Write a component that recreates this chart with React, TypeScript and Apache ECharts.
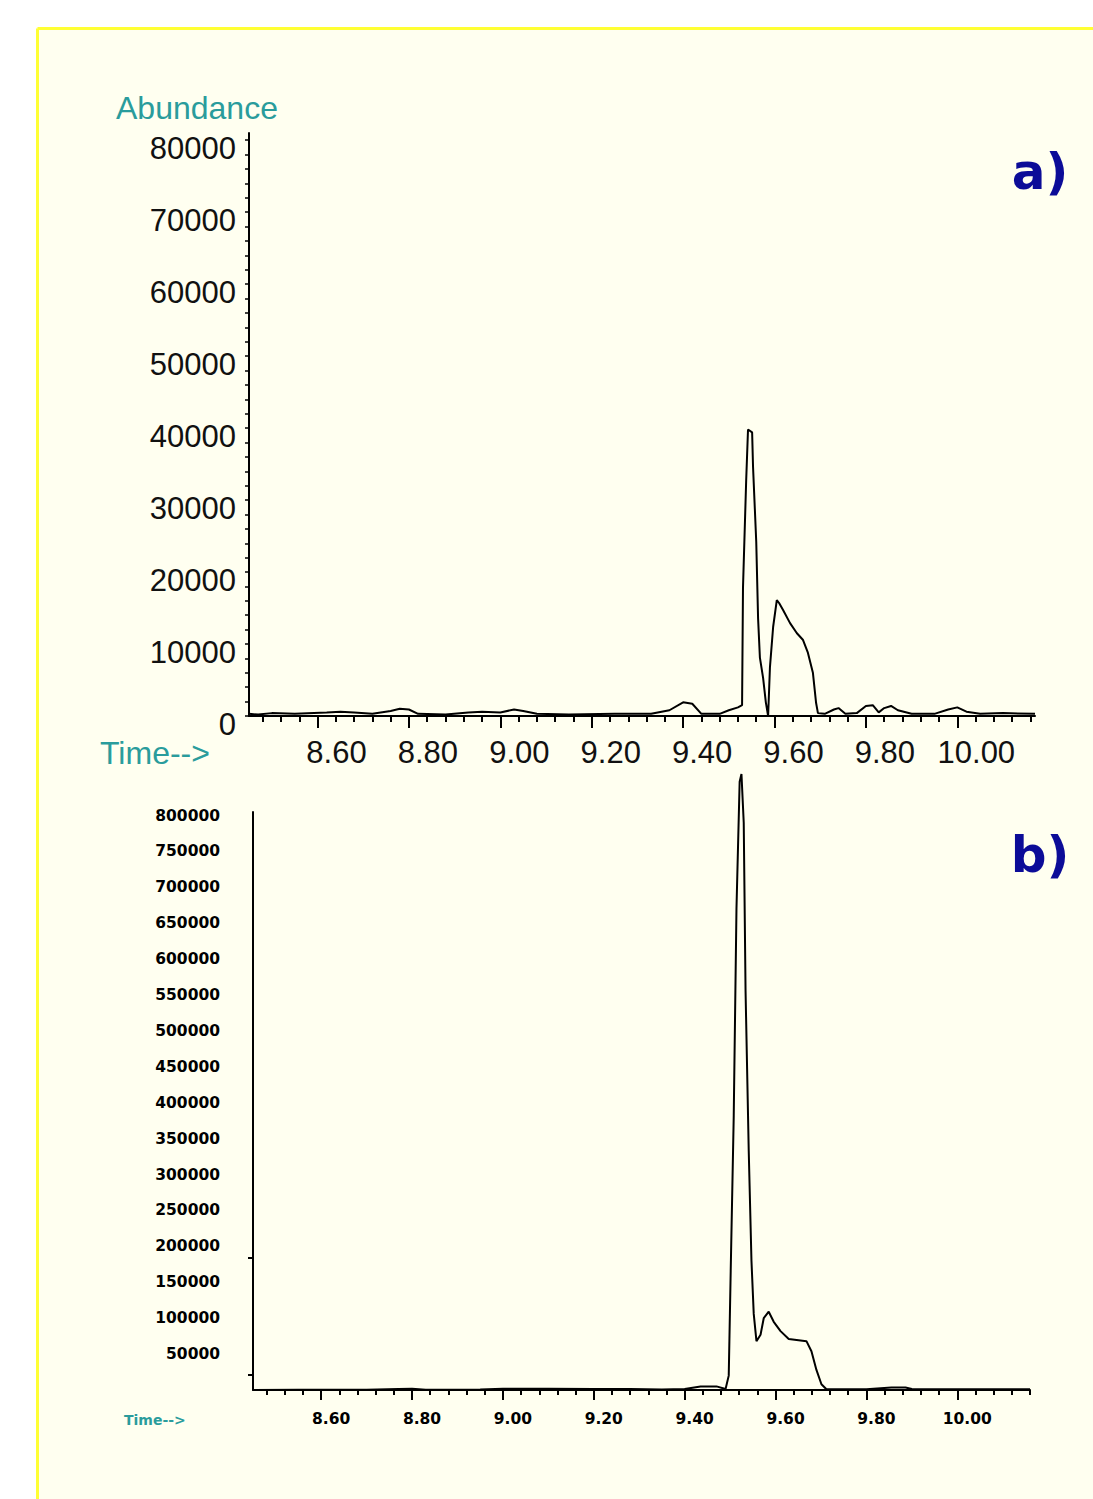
import React, { useEffect, useRef } from "react";
import * as echarts from "echarts";

// ---------- data ----------
const TIME_TICKS = [8.6, 8.8, 9.0, 9.2, 9.4, 9.6, 9.8, 10.0];
const A_Y_TICKS = [0, 10000, 20000, 30000, 40000, 50000, 60000, 70000, 80000];
const B_Y_TICKS = [
  50000, 100000, 150000, 200000, 250000, 300000, 350000, 400000,
  450000, 500000, 550000, 600000, 650000, 700000, 750000, 800000,
];

// panel a) chromatogram
const A_TIME = [
  8.45, 8.47, 8.5, 8.55, 8.62, 8.65, 8.68, 8.72, 8.76, 8.78, 8.8, 8.82, 8.88,
  8.93, 8.96, 9.0, 9.03, 9.05, 9.08, 9.15, 9.25, 9.33, 9.37, 9.4, 9.42, 9.44,
  9.48, 9.5, 9.52, 9.529, 9.531, 9.538, 9.542, 9.551, 9.553, 9.56, 9.564,
  9.568, 9.575, 9.581, 9.586, 9.59, 9.597, 9.605, 9.61, 9.619, 9.634, 9.649,
  9.662, 9.673, 9.684, 9.691, 9.695, 9.71, 9.73, 9.74, 9.755, 9.78, 9.8,
  9.815, 9.828, 9.84, 9.855, 9.87, 9.9, 9.95, 9.98, 10.0, 10.02, 10.05, 10.1,
  10.17,
];
const A_ABUND = [
  300, 200, 400, 300, 500, 600, 500, 300, 700, 1000, 900, 300, 200, 500, 600,
  500, 900, 700, 300, 200, 300, 300, 800, 1900, 1700, 300, 300, 800, 1200,
  1500, 17800, 32800, 39800, 39400, 34600, 24200, 13600, 8100, 5300, 1900, 0,
  6800, 12400, 16100, 15700, 14700, 12900, 11500, 10600, 8800, 6000, 1800, 400,
  300, 900, 1100, 300, 400, 1400, 1500, 500, 1100, 1400, 800, 300, 300, 900,
  1200, 600, 300, 400, 300,
];

// panel b) chromatogram
const B_TIME = [
  8.45, 8.55, 8.7, 8.77, 8.8, 8.83, 8.95, 9.0, 9.1, 9.2, 9.28, 9.35, 9.4,
  9.435, 9.47, 9.49, 9.497, 9.501, 9.508, 9.514, 9.521, 9.525, 9.53, 9.534,
  9.541, 9.547, 9.552, 9.558, 9.567, 9.574, 9.585, 9.596, 9.611, 9.629, 9.668,
  9.679, 9.69, 9.701, 9.712, 9.8, 9.855, 9.886, 9.9, 10.0, 10.16,
];
const B_ABUND = [
  0, 300, 500, 1500, 1800, 500, 800, 1800, 1700, 1500, 1300, 800, 1500, 5000,
  5000, 1500, 20000, 155000, 382000, 670000, 847000, 858000, 790000, 556000,
  333000, 180000, 106000, 68000, 77000, 100000, 109000, 95000, 82000, 71000,
  68000, 54000, 28000, 8000, 1000, 1200, 3500, 3500, 1500, 1200, 1200,
];

// ---------- helpers ----------
const minorTimes: number[] = [];
for (let k = 0; k <= 42; k++) minorTimes.push(Math.round((8.48 + k * 0.04) * 1000) / 1000);
const aMinorY: number[] = [];
for (let v = 0; v <= 80000; v += 2000) aMinorY.push(v);

const TEAL = "#2a9c9c";
const NAVY = "#0c0c98";
const FONT = "'Liberation Sans', Arial, sans-serif";
const PIX = "'DejaVu Sans', sans-serif";

export default function App() {
  const ref = useRef<HTMLDivElement>(null);
  useEffect(() => {
    if (!ref.current) return;
    const chart = echarts.init(ref.current, undefined, { renderer: "svg" });
    const aData = A_TIME.map((t, i) => [t, A_ABUND[i]]);
    const bData = B_TIME.map((t, i) => [t, B_ABUND[i]]);
    const black = { color: "#000", width: 2 };
    chart.setOption({
      animation: false,
      backgroundColor: "#fffff0",
      grid: [
        { left: 249, top: 133, width: 786, height: 583 },
        { left: 253, top: 812, width: 777, height: 578 },
      ],
      xAxis: [
        {
          gridIndex: 0, type: "value", min: 8.45, max: 10.17, position: "bottom",
          axisLine: { show: true, lineStyle: black },
          splitLine: { show: false },
          axisTick: { show: true, customValues: TIME_TICKS, length: 12, lineStyle: black },
          axisLabel: {
            customValues: TIME_TICKS, formatter: (v: number) => v.toFixed(2),
            fontSize: 31, fontFamily: FONT, color: "#111", margin: 21, padding: [0, 0, 0, 38],
          },
        },
        {
          gridIndex: 0, type: "value", min: 8.45, max: 10.17, position: "bottom",
          axisLine: { show: false }, splitLine: { show: false }, axisLabel: { show: false },
          axisTick: { show: true, customValues: minorTimes, length: 6, lineStyle: black },
        },
        {
          gridIndex: 1, type: "value", min: 8.45, max: 10.16, position: "bottom",
          axisLine: { show: true, lineStyle: black },
          splitLine: { show: false },
          axisTick: { show: true, customValues: TIME_TICKS, length: 10, lineStyle: black },
          axisLabel: {
            customValues: TIME_TICKS, formatter: (v: number) => v.toFixed(2),
            fontSize: 15.5, fontWeight: "bold", fontFamily: PIX, color: "#000", margin: 21,
            padding: [0, 0, 0, 20],
          },
        },
        {
          gridIndex: 1, type: "value", min: 8.45, max: 10.16, position: "bottom",
          axisLine: { show: false }, splitLine: { show: false }, axisLabel: { show: false },
          axisTick: { show: true, customValues: minorTimes, length: 5, lineStyle: black },
        },
      ],
      yAxis: [
        {
          gridIndex: 0, type: "value", min: 0, max: 81000,
          axisLine: { show: true, lineStyle: black },
          splitLine: { show: false },
          axisTick: { show: true, customValues: aMinorY, length: 4, lineStyle: { color: "#000", width: 1.5 } },
          axisLabel: {
            customValues: A_Y_TICKS, formatter: (v: number) => String(v),
            fontSize: 31, fontFamily: FONT, color: "#111", margin: 13,
            verticalAlign: "top", lineHeight: 16,
          },
        },
        {
          gridIndex: 1, type: "value", min: 0, max: 805000,
          axisLine: { show: true, lineStyle: black },
          splitLine: { show: false },
          axisTick: { show: true, customValues: [21000, 184000], length: 5, lineStyle: black },
          axisLabel: {
            customValues: B_Y_TICKS, formatter: (v: number) => String(v),
            fontSize: 15.5, fontWeight: "bold", fontFamily: PIX, color: "#000", margin: 33,
          },
        },
      ],
      series: [
        {
          type: "line", xAxisIndex: 0, yAxisIndex: 0, data: aData, showSymbol: false,
          lineStyle: { color: "#000", width: 2 }, clip: false,
        },
        {
          type: "line", xAxisIndex: 2, yAxisIndex: 1, data: bData, showSymbol: false,
          lineStyle: { color: "#000", width: 2 }, clip: false,
        },
      ],
      graphic: [
        { type: "rect", shape: { x: 0, y: 0, width: 1093, height: 27 }, style: { fill: "#ffffff" } },
        { type: "rect", shape: { x: 0, y: 0, width: 36, height: 1499 }, style: { fill: "#ffffff" } },
        { type: "line", shape: { x1: 37.5, y1: 28.5, x2: 1093, y2: 28.5 }, style: { stroke: "#ffff33", lineWidth: 3 } },
        { type: "line", shape: { x1: 37.5, y1: 28.5, x2: 37.5, y2: 1499 }, style: { stroke: "#ffff33", lineWidth: 3 } },
        {
          type: "text", x: 116, y: 108,
          style: { text: "Abundance", fill: TEAL, font: `32px ${FONT}`, textVerticalAlign: "middle" },
        },
        {
          type: "text", x: 100, y: 753,
          style: { text: "Time-->", fill: TEAL, font: `32px ${FONT}`, textVerticalAlign: "middle" },
        },
        {
          type: "text", x: 124, y: 1420,
          style: { text: "Time-->", fill: TEAL, font: `bold 14px ${PIX}`, textVerticalAlign: "middle" },
        },
        {
          type: "text", x: 1040, y: 172,
          style: { text: "a)", fill: NAVY, font: `bold 50px ${PIX}`, textAlign: "center", textVerticalAlign: "middle" },
        },
        {
          type: "text", x: 1040, y: 855,
          style: { text: "b)", fill: NAVY, font: `bold 50px ${PIX}`, textAlign: "center", textVerticalAlign: "middle" },
        },
      ],
    });
    return () => chart.dispose();
  }, []);
  return (
    <div
      ref={ref}
      style={{ position: "fixed", left: 0, top: 0, width: 1093, height: 1499 }}
    />
  );
}
